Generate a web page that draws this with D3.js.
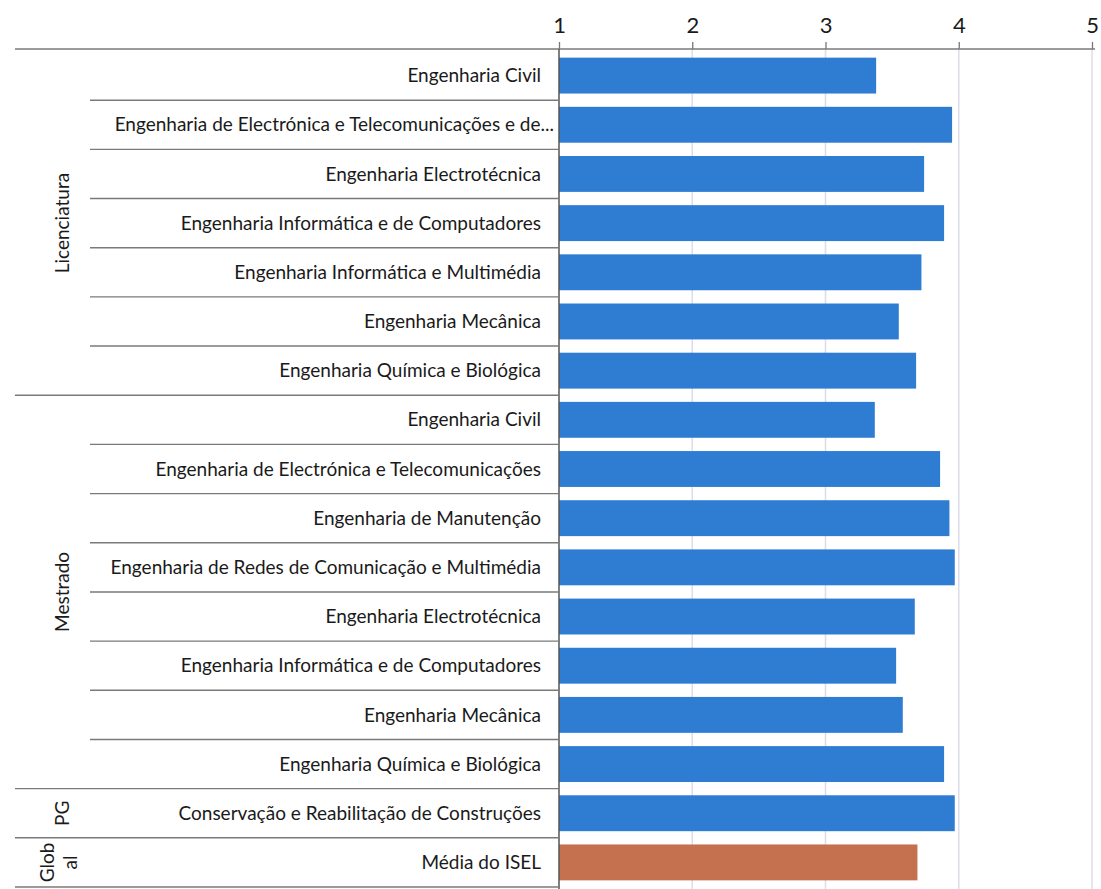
<!DOCTYPE html>
<html><head><meta charset="utf-8">
<script src="https://cdn.jsdelivr.net/npm/d3@7"></script>
<style>
html,body{margin:0;padding:0;background:#fff;}
svg{display:block;}
text{font-family:Lato,"Open Sans",sans-serif;fill:#1a1a1a;}
</style></head>
<body>
<svg id="chart" width="1101" height="889"></svg>
<script>
const groups = ["Licenciatura","Mestrado","PG","Global"];
const categories = [
  "Engenharia Civil",
  "Engenharia de Electrónica e Telecomunicações e de...",
  "Engenharia Electrotécnica",
  "Engenharia Informática e de Computadores",
  "Engenharia Informática e Multimédia",
  "Engenharia Mecânica",
  "Engenharia Química e Biológica",
  "Engenharia Civil",
  "Engenharia de Electrónica e Telecomunicações",
  "Engenharia de Manutenção",
  "Engenharia de Redes de Comunicação e Multimédia",
  "Engenharia Electrotécnica",
  "Engenharia Informática e de Computadores",
  "Engenharia Mecânica",
  "Engenharia Química e Biológica",
  "Conservação e Reabilitação de Construções",
  "Média do ISEL"
];
const categoryGroup = [0,0,0,0,0,0,0,1,1,1,1,1,1,1,1,2,3];
const values = [3.38,3.95,3.74,3.89,3.72,3.55,3.68,3.37,3.86,3.93,3.97,3.67,3.53,3.58,3.89,3.97,3.69];
const tickValues = [1,2,3,4,5];

const svg = d3.select("#chart");
const axisY = 49, left = 559, right = 1092, bottom = 887;
const x = d3.scaleLinear().domain([1,5]).range([left,right]);
const y = d3.scaleBand().domain(d3.range(categories.length)).range([axisY+2, bottom]).paddingInner(0.27).paddingOuter(0.135);
const step = y.step();

// gridlines
svg.append("g").selectAll("line").data(tickValues.slice(1)).join("line")
  .attr("x1", d=>x(d)).attr("x2", d=>x(d)).attr("y1", axisY).attr("y2", bottom+2)
  .attr("stroke","#dcdcea").attr("stroke-width",1.5);

// bars
svg.append("g").selectAll("rect").data(values).join("rect")
  .attr("x", x(1)).attr("y",(d,i)=>y(i)).attr("width", d=>x(d)-x(1)).attr("height", y.bandwidth())
  .attr("fill",(d,i)=>categoryGroup[i]===3 ? "#c5704f" : "#2e7dd2");

// top axis
const ax = svg.append("g").attr("transform",`translate(0,${axisY})`)
  .call(d3.axisTop(x).tickValues(tickValues).tickFormat(d3.format("d")).tickSize(7).tickPadding(9));
ax.select(".domain").remove();
ax.selectAll(".tick line").attr("stroke","#777").attr("stroke-width",1.3);
ax.selectAll(".tick text").style("font-size","22px").attr("fill","#1a1a1a").style("font-family","Lato, sans-serif");
svg.append("line").attr("x1",15).attr("x2",1095).attr("y1",axisY).attr("y2",axisY).attr("stroke","#7a7a7a").attr("stroke-width",1.5);

// vertical category axis
svg.append("line").attr("x1",x(1)).attr("x2",x(1)).attr("y1",axisY).attr("y2",889).attr("stroke","#555").attr("stroke-width",1.5);

// row separators
const seps = [];
for (let i=1;i<=categories.length;i++){
  const boundary = axisY+2 + i*step;
  const groupBreak = i===categories.length || categoryGroup[i]!==categoryGroup[i-1];
  seps.push({yv: boundary, x1: groupBreak?15:90});
}
svg.append("g").selectAll("line").data(seps).join("line")
  .attr("x1",d=>d.x1).attr("x2",x(1)).attr("y1",d=>d.yv).attr("y2",d=>d.yv)
  .attr("stroke","#7a7a7a").attr("stroke-width",1.4);

// category labels
svg.append("g").selectAll("text").data(categories).join("text")
  .attr("x",(d,i)=> i===1 ? 554 : 541).attr("y",(d,i)=>y(i)+y.bandwidth()/2).attr("dy","0.35em")
  .attr("text-anchor","end").style("font-size","19px").text(d=>d);

// group labels
groups.forEach((g,gi)=>{
  const idx = categoryGroup.map((c,i)=>c===gi?i:-1).filter(i=>i>=0);
  const top = axisY+2 + idx[0]*step, bot = axisY+2 + (idx[idx.length-1]+1)*step;
  const cy = (top+bot)/2;
  const t = svg.append("text").attr("transform",`translate(${g==="Global"?60:62},${cy}) rotate(-90)`)
    .attr("text-anchor","middle").style("font-size","19px");
  if (g==="Global"){
    t.append("tspan").attr("x",0).attr("dy","-0.3em").text("Glob");
    t.append("tspan").attr("x",0).attr("dy","1.2em").text("al");
  } else {
    t.attr("dy","0.35em").text(g);
  }
});
</script>
</body></html>
